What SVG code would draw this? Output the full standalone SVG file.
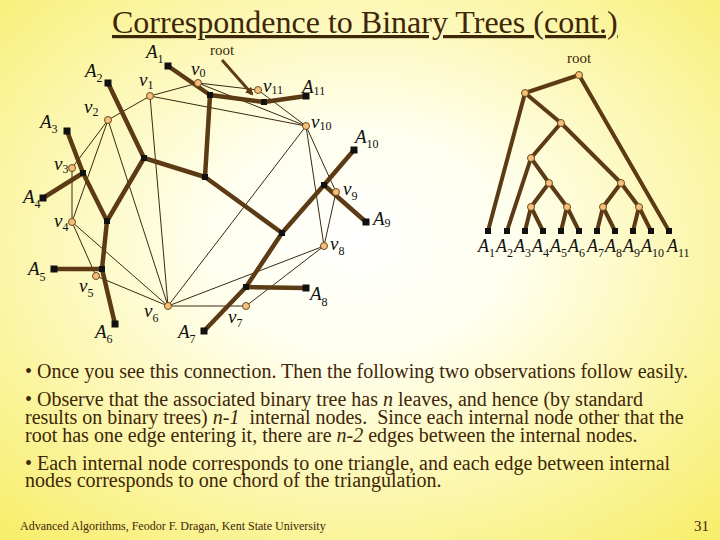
<svg xmlns="http://www.w3.org/2000/svg" width="720" height="540" viewBox="0 0 720 540">
<defs>
<radialGradient id="bg" cx="0.5" cy="0.45" r="0.72">
<stop offset="0" stop-color="#FFFFFF"/>
<stop offset="0.3" stop-color="#FFFFEE"/>
<stop offset="1" stop-color="#F8EE6E"/>
</radialGradient>
<marker id="arr" markerWidth="8" markerHeight="8" refX="6" refY="4" orient="auto" markerUnits="userSpaceOnUse" viewBox="0 0 8 8">
<path d="M0,0 L8,4 L0,8 Z" fill="#5C3A14"/>
</marker>
<style>
.thin{stroke:#3A2810;stroke-width:1;fill:none}
.thick{stroke:#5C3A14;stroke-width:4.5;fill:none;stroke-linecap:round}
.thickr{stroke:#5C3A14;stroke-width:4;fill:none;stroke-linecap:round}
.v{fill:#F6C07A;stroke:#6B4A1E;stroke-width:1}
.leaf{fill:#111}
.inn{fill:#111}
.lab{font-family:"Liberation Serif",serif;font-style:italic;font-size:19px;fill:#111}
.rlab{font-family:"Liberation Serif",serif;font-style:italic;font-size:18px;fill:#111}
.sub{font-style:normal;font-size:12px}
.t{font-family:"Liberation Serif",serif;fill:#3E2608}
</style>
</defs>
<rect width="720" height="540" fill="url(#bg)"/>

<text class="t" x="112" y="33" font-size="32" text-decoration="underline" fill="#5A3510">Correspondence to Binary Trees (cont.)</text>

<g id="connectors">
<g id="polygon-edges">
<polygon class="thin" points="198,83 150,96 108,120 72,168 72,222 96,276 168,306 246,306 324,246 336,192 306,126 258,90"/>
<line class="thin" x1="198" y1="83" x2="306" y2="126"/>
<line class="thin" x1="150" y1="96" x2="306" y2="126"/>
<line class="thin" x1="150" y1="96" x2="168" y2="306"/>
<line class="thin" x1="168" y1="306" x2="306" y2="126"/>
<line class="thin" x1="108" y1="120" x2="168" y2="306"/>
<line class="thin" x1="108" y1="120" x2="72" y2="222"/>
<line class="thin" x1="72" y1="222" x2="168" y2="306"/>
<line class="thin" x1="168" y1="306" x2="324" y2="246"/>
<line class="thin" x1="324" y1="246" x2="306" y2="126"/>
</g>
<g id="left-tree-edges">
<line class="thick" x1="264" y1="102" x2="306" y2="96"/>
<line class="thick" x1="210" y1="95" x2="264" y2="102"/>
<line class="thick" x1="210" y1="95" x2="168" y2="66"/>
<line class="thick" x1="210" y1="95" x2="205" y2="177"/>
<line class="thick" x1="205" y1="177" x2="144" y2="158"/>
<line class="thick" x1="205" y1="177" x2="282" y2="233"/>
<line class="thick" x1="144" y1="158" x2="108" y2="83"/>
<line class="thick" x1="144" y1="158" x2="107" y2="221"/>
<line class="thick" x1="107" y1="221" x2="83" y2="173"/>
<line class="thick" x1="107" y1="221" x2="102" y2="269"/>
<line class="thick" x1="83" y1="173" x2="67" y2="131"/>
<line class="thick" x1="83" y1="173" x2="43" y2="198"/>
<line class="thick" x1="102" y1="269" x2="54" y2="269"/>
<line class="thick" x1="102" y1="269" x2="115" y2="324"/>
<line class="thick" x1="282" y1="233" x2="324" y2="185"/>
<line class="thick" x1="282" y1="233" x2="246" y2="287"/>
<line class="thick" x1="324" y1="185" x2="354" y2="150"/>
<line class="thick" x1="324" y1="185" x2="366" y2="222"/>
<line class="thick" x1="246" y1="287" x2="306" y2="288"/>
<line class="thick" x1="246" y1="287" x2="204" y2="331"/>
<line x1="222" y1="60" x2="252" y2="94" stroke="#5C3A14" stroke-width="3" marker-end="url(#arr)"/>
</g>
<g id="right-tree-edges">
<line class="thickr" x1="579" y1="75" x2="525" y2="93"/>
<line class="thickr" x1="579" y1="75" x2="669" y2="231"/>
<line class="thickr" x1="525" y1="93" x2="488" y2="231"/>
<line class="thickr" x1="525" y1="93" x2="561" y2="123"/>
<line class="thickr" x1="561" y1="123" x2="531" y2="158"/>
<line class="thickr" x1="561" y1="123" x2="621" y2="183"/>
<line class="thickr" x1="531" y1="158" x2="507" y2="231"/>
<line class="thickr" x1="531" y1="158" x2="549" y2="183"/>
<line class="thickr" x1="549" y1="183" x2="531" y2="207"/>
<line class="thickr" x1="549" y1="183" x2="567" y2="207"/>
<line class="thickr" x1="531" y1="207" x2="525" y2="231"/>
<line class="thickr" x1="531" y1="207" x2="543" y2="231"/>
<line class="thickr" x1="567" y1="207" x2="561" y2="231"/>
<line class="thickr" x1="567" y1="207" x2="579" y2="231"/>
<line class="thickr" x1="621" y1="183" x2="603" y2="207"/>
<line class="thickr" x1="621" y1="183" x2="639" y2="207"/>
<line class="thickr" x1="603" y1="207" x2="597" y2="231"/>
<line class="thickr" x1="603" y1="207" x2="615" y2="231"/>
<line class="thickr" x1="639" y1="207" x2="633" y2="231"/>
<line class="thickr" x1="639" y1="207" x2="651" y2="231"/>
</g>
</g>

<g id="v0"><circle class="v" cx="198" cy="83" r="3.5"/><text class="lab" x="191" y="75">v<tspan class="sub" dy="2">0</tspan></text></g>
<g id="v1"><circle class="v" cx="150" cy="96" r="3.5"/><text class="lab" x="139" y="86">v<tspan class="sub" dy="3">1</tspan></text></g>
<g id="v2"><circle class="v" cx="108" cy="120" r="3.5"/><text class="lab" x="84" y="113">v<tspan class="sub" dy="3">2</tspan></text></g>
<g id="v3"><circle class="v" cx="72" cy="168" r="3.5"/><text class="lab" x="54" y="170">v<tspan class="sub" dy="3">3</tspan></text></g>
<g id="v4"><circle class="v" cx="72" cy="222" r="3.5"/><text class="lab" x="54" y="227">v<tspan class="sub" dy="4">4</tspan></text></g>
<g id="v5"><circle class="v" cx="96" cy="276" r="3.5"/><text class="lab" x="79" y="292">v<tspan class="sub" dy="5">5</tspan></text></g>
<g id="v6"><circle class="v" cx="168" cy="306" r="3.5"/><text class="lab" x="144" y="317">v<tspan class="sub" dy="5">6</tspan></text></g>
<g id="v7"><circle class="v" cx="246" cy="306" r="3.5"/><text class="lab" x="228" y="323">v<tspan class="sub" dy="4">7</tspan></text></g>
<g id="v8"><circle class="v" cx="324" cy="246" r="3.5"/><text class="lab" x="330" y="250">v<tspan class="sub" dy="5">8</tspan></text></g>
<g id="v9"><circle class="v" cx="336" cy="192" r="3.5"/><text class="lab" x="343" y="195">v<tspan class="sub" dy="5">9</tspan></text></g>
<g id="v10"><circle class="v" cx="306" cy="126" r="3.5"/><text class="lab" x="311" y="128">v<tspan class="sub" dy="2">10</tspan></text></g>
<g id="v11"><circle class="v" cx="258" cy="90" r="3.5"/><text class="lab" x="263" y="92">v<tspan class="sub" dy="2">11</tspan></text></g>

<g id="A1"><rect class="leaf" x="164.5" y="62.5" width="7" height="7"/><text class="lab" x="146" y="58">A<tspan class="sub" dy="5">1</tspan></text></g>
<g id="A2"><rect class="leaf" x="104.5" y="79.5" width="7" height="7"/><text class="lab" x="85" y="77">A<tspan class="sub" dy="5">2</tspan></text></g>
<g id="A3"><rect class="leaf" x="63.5" y="127.5" width="7" height="7"/><text class="lab" x="40" y="128">A<tspan class="sub" dy="5">3</tspan></text></g>
<g id="A4"><rect class="leaf" x="39.5" y="194.5" width="7" height="7"/><text class="lab" x="23" y="203">A<tspan class="sub" dy="5">4</tspan></text></g>
<g id="A5"><rect class="leaf" x="50.5" y="265.5" width="7" height="7"/><text class="lab" x="28" y="275">A<tspan class="sub" dy="6">5</tspan></text></g>
<g id="A6"><rect class="leaf" x="111.5" y="320.5" width="7" height="7"/><text class="lab" x="95" y="338">A<tspan class="sub" dy="5">6</tspan></text></g>
<g id="A7"><rect class="leaf" x="200.5" y="327.5" width="7" height="7"/><text class="lab" x="178" y="338">A<tspan class="sub" dy="5">7</tspan></text></g>
<g id="A8"><rect class="leaf" x="302.5" y="284.5" width="7" height="7"/><text class="lab" x="310" y="300">A<tspan class="sub" dy="6">8</tspan></text></g>
<g id="A9"><rect class="leaf" x="362.5" y="218.5" width="7" height="7"/><text class="lab" x="373" y="225">A<tspan class="sub" dy="2">9</tspan></text></g>
<g id="A10"><rect class="leaf" x="350.5" y="146.5" width="7" height="7"/><text class="lab" x="355" y="143">A<tspan class="sub" dy="5">10</tspan></text></g>
<g id="A11"><rect class="leaf" x="302.5" y="92.5" width="7" height="7"/><text class="lab" x="302" y="93">A<tspan class="sub" dy="2">11</tspan></text></g>

<g id="n-root"><rect class="inn" x="261" y="99" width="6" height="6"/></g>
<g id="n-x"><rect class="inn" x="207" y="92" width="6" height="6"/></g>
<g id="n-y"><rect class="inn" x="202" y="174" width="6" height="6"/></g>
<g id="n-z"><rect class="inn" x="141" y="155" width="6" height="6"/></g>
<g id="n-p"><rect class="inn" x="104" y="218" width="6" height="6"/></g>
<g id="n-q"><rect class="inn" x="80" y="170" width="6" height="6"/></g>
<g id="n-r"><rect class="inn" x="99" y="266" width="6" height="6"/></g>
<g id="n-w"><rect class="inn" x="279" y="230" width="6" height="6"/></g>
<g id="n-t"><rect class="inn" x="321" y="182" width="6" height="6"/></g>
<g id="n-s"><rect class="inn" x="243" y="284" width="6" height="6"/></g>
<g id="root-label"><text class="t" x="210" y="55" font-size="15">root</text></g>

<g id="r-root"><circle class="v" cx="579" cy="75" r="3.5"/><text class="t" x="579" y="63" font-size="15" text-anchor="middle">root</text></g>
<g id="r-x"><circle class="v" cx="525" cy="93" r="3.5"/></g>
<g id="r-y"><circle class="v" cx="561" cy="123" r="3.5"/></g>
<g id="r-z"><circle class="v" cx="531" cy="158" r="3.5"/></g>
<g id="r-p"><circle class="v" cx="549" cy="183" r="3.5"/></g>
<g id="r-q"><circle class="v" cx="531" cy="207" r="3.5"/></g>
<g id="r-r"><circle class="v" cx="567" cy="207" r="3.5"/></g>
<g id="r-w"><circle class="v" cx="621" cy="183" r="3.5"/></g>
<g id="r-s"><circle class="v" cx="603" cy="207" r="3.5"/></g>
<g id="r-t"><circle class="v" cx="639" cy="207" r="3.5"/></g>
<g id="rA1"><rect class="leaf" x="485" y="228" width="6" height="6"/><text class="rlab" x="478" y="252">A<tspan class="sub" dy="5">1</tspan></text></g>
<g id="rA2"><rect class="leaf" x="504" y="228" width="6" height="6"/><text class="rlab" x="496" y="252">A<tspan class="sub" dy="5">2</tspan></text></g>
<g id="rA3"><rect class="leaf" x="522" y="228" width="6" height="6"/><text class="rlab" x="514" y="252">A<tspan class="sub" dy="5">3</tspan></text></g>
<g id="rA4"><rect class="leaf" x="540" y="228" width="6" height="6"/><text class="rlab" x="532" y="252">A<tspan class="sub" dy="5">4</tspan></text></g>
<g id="rA5"><rect class="leaf" x="558" y="228" width="6" height="6"/><text class="rlab" x="550" y="252">A<tspan class="sub" dy="5">5</tspan></text></g>
<g id="rA6"><rect class="leaf" x="576" y="228" width="6" height="6"/><text class="rlab" x="568" y="252">A<tspan class="sub" dy="5">6</tspan></text></g>
<g id="rA7"><rect class="leaf" x="594" y="228" width="6" height="6"/><text class="rlab" x="587" y="252">A<tspan class="sub" dy="5">7</tspan></text></g>
<g id="rA8"><rect class="leaf" x="612" y="228" width="6" height="6"/><text class="rlab" x="605" y="252">A<tspan class="sub" dy="5">8</tspan></text></g>
<g id="rA9"><rect class="leaf" x="630" y="228" width="6" height="6"/><text class="rlab" x="623" y="252">A<tspan class="sub" dy="5">9</tspan></text></g>
<g id="rA10"><rect class="leaf" x="648" y="228" width="6" height="6"/><text class="rlab" x="641" y="252">A<tspan class="sub" dy="5">10</tspan></text></g>
<g id="rA11"><rect class="leaf" x="666" y="228" width="6" height="6"/><text class="rlab" x="667" y="252">A<tspan class="sub" dy="5">11</tspan></text></g>

<g class="t" font-size="20">
<text x="25" y="378">• Once you see this connection. Then the following two observations follow easily.</text>
<text x="25" y="406">• Observe that the associated binary tree has <tspan font-style="italic">n</tspan> leaves, and hence (by standard</text>
<text x="25" y="424" xml:space="preserve">results on binary trees) <tspan font-style="italic">n-1</tspan>  internal nodes.  Since each internal node other that the</text>
<text x="25" y="442">root has one edge entering it, there are <tspan font-style="italic">n-2</tspan> edges between the internal nodes.</text>
<text x="25" y="470">• Each internal node corresponds to one triangle, and each edge between internal</text>
<text x="25" y="487">nodes corresponds to one chord of the triangulation.</text>
</g>
<text class="t" x="20" y="530" font-size="12">Advanced Algorithms, Feodor F. Dragan, Kent State University</text>
<text class="t" x="709" y="531" font-size="15" text-anchor="end">31</text>
</svg>
